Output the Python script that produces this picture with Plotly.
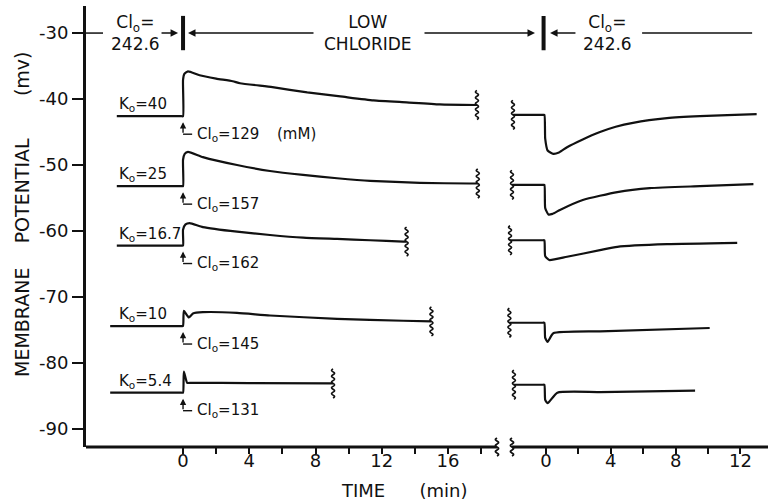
import math
import plotly.graph_objects as go

# ---------------- data ----------------
k_labels = ["40", "25", "16.7", "10", "5.4"]
cl_labels = ["129", "157", "162", "145", "131"]

# low-chloride records (time in min, potential in mV)
t_low_40 = [-4.0, -2.0, -0.1, 0.0, 0.0, 0.08, 0.3, 1.0, 2.0, 3.0, 3.44, 5.4, 7.5, 9.5, 11.5, 13.5, 15.5, 17.75]
v_low_40 = [-42.6, -42.6, -42.6, -42.6, -37.1, -36.2, -35.8, -36.4, -36.9, -37.3, -37.6, -38.2, -39.0, -39.6, -40.2, -40.5, -40.8, -40.9]
t_low_25 = [-4.0, -2.0, -0.1, 0.0, 0.0, 0.1, 0.3, 1.2, 3.26, 5.25, 7.25, 9.3, 11.3, 14.3, 17.3, 17.8]
v_low_25 = [-53.2, -53.2, -53.2, -53.2, -49.2, -48.3, -48.0, -48.8, -50.0, -50.9, -51.5, -52.0, -52.4, -52.7, -52.8, -52.8]
t_low_167 = [-4.0, -2.0, -0.1, 0.0, 0.0, 0.15, 0.4, 1.2, 3.26, 5.25, 7.25, 9.3, 11.3, 13.3, 13.5]
v_low_167 = [-62.2, -62.2, -62.2, -62.2, -59.8, -59.0, -58.8, -59.4, -60.1, -60.6, -61.0, -61.2, -61.4, -61.6, -61.6]
t_low_10 = [-4.4, -2.0, -0.1, 0.0, 0.05, 0.35, 0.6, 1.2, 3.26, 5.25, 9.3, 13.3, 15.0]
v_low_10 = [-74.4, -74.4, -74.4, -74.4, -72.1, -73.1, -72.5, -72.3, -72.4, -72.8, -73.3, -73.6, -73.7]
t_low_54 = [-4.4, -2.0, -0.1, 0.0, 0.05, 0.25, 0.5, 4.0, 9.06]
v_low_54 = [-84.5, -84.5, -84.5, -84.5, -81.3, -83.0, -83.0, -83.05, -83.1]

# recovery records after Cl restored (time in min, potential in mV)
t_rec_40 = [-2.04, -1.0, -0.2, -0.1, -0.05, 0.1, 0.45, 0.8, 1.3, 2.2, 3.33, 4.3, 5.37, 7.47, 9.5, 11.2, 13.0]
v_rec_40 = [-42.4, -42.4, -42.4, -42.4, -46.0, -47.8, -48.3, -48.1, -47.3, -46.2, -45.0, -44.2, -43.6, -42.9, -42.6, -42.45, -42.3]
t_rec_25 = [-2.1, -1.0, -0.2, -0.1, -0.05, 0.15, 0.4, 0.86, 2.27, 4.4, 6.4, 9.5, 12.8]
v_rec_25 = [-53.0, -53.0, -53.0, -53.0, -56.5, -57.5, -57.4, -56.8, -55.3, -54.1, -53.5, -53.2, -52.9]
t_rec_167 = [-2.22, -1.0, -0.2, -0.1, -0.05, 0.2, 1.3, 3.33, 4.4, 7.47, 11.8]
v_rec_167 = [-61.4, -61.4, -61.4, -61.4, -63.8, -64.4, -63.9, -62.9, -62.4, -62.0, -61.8]
t_rec_10 = [-2.26, -1.0, -0.2, -0.1, -0.05, 0.1, 0.45, 3.33, 10.1]
v_rec_10 = [-73.9, -73.9, -73.9, -73.9, -76.2, -76.8, -75.5, -75.2, -74.7]
t_rec_54 = [-1.98, -1.0, -0.2, -0.1, -0.05, 0.1, 0.7, 3.33, 9.2]
v_rec_54 = [-83.3, -83.3, -83.3, -83.3, -85.6, -86.1, -84.5, -84.4, -84.2]

y_ticks = [-30, -40, -50, -60, -70, -80, -90]
x_low_ticks = [0, 2, 4, 6, 8, 10, 12, 14, 16, 18]
x_rec_ticks = [0, 2, 4, 6, 8, 10, 12]

low = [(t_low_40, v_low_40), (t_low_25, v_low_25), (t_low_167, v_low_167),
       (t_low_10, v_low_10), (t_low_54, v_low_54)]
rec = [(t_rec_40, v_rec_40), (t_rec_25, v_rec_25), (t_rec_167, v_rec_167),
       (t_rec_10, v_rec_10), (t_rec_54, v_rec_54)]

# ---------------- geometry ----------------
W, H = 768, 503
ML, MR, MT, MB = 86, 0, 6, 56
PW, PH = W - ML - MR, H - MT - MB
X1R = [-5.86, 18.96]
X2R = [-2.45, 13.7]
D1 = [0.0, (497 - ML) / PW]
D2 = [(546 - 2.45 * 16.2 - ML) / PW, 1.0]
YR = [-92.73, -25.9]

def ppx(px):
    return (px - ML) / PW

INK = "#111111"
FONT = "DejaVu Sans"

fig = go.Figure()
for t, v in low:
    fig.add_trace(go.Scatter(x=t, y=v, mode="lines",
                             line=dict(color=INK, width=2.2, shape="spline", smoothing=0.5),
                             xaxis="x", yaxis="y", showlegend=False, hoverinfo="skip"))
for t, v in rec:
    fig.add_trace(go.Scatter(x=t, y=v, mode="lines",
                             line=dict(color=INK, width=2.2, shape="spline", smoothing=0.5),
                             xaxis="x2", yaxis="y", showlegend=False, hoverinfo="skip"))

shapes = []
annotations = []

def squig_path(x0, y0, hx, hy, cycles=5, n=60):
    pts = []
    for i in range(n + 1):
        s = i / n
        yy = y0 - hy + 2 * hy * s
        xx = x0 + hx * math.sin(2 * math.pi * cycles * s)
        pts.append((xx, yy))
    return "M " + " L ".join(f"{a:.4f},{b:.4f}" for a, b in pts)

# record-end squiggles
for t, v in low:
    shapes.append(dict(type="path", xref="x", yref="y",
                       path=squig_path(t[-1], v[-1], 0.09, 2.2),
                       line=dict(color=INK, width=1.6)))
for t, v in rec:
    shapes.append(dict(type="path", xref="x2", yref="y",
                       path=squig_path(t[0], v[0], 0.09, 2.2),
                       line=dict(color=INK, width=1.6)))

# x axis lines (broken)
shapes.append(dict(type="line", xref="paper", yref="paper", x0=0, x1=D1[1], y0=0, y1=0,
                   line=dict(color=INK, width=3)))
shapes.append(dict(type="line", xref="paper", yref="paper", x0=ppx(512), x1=1, y0=0, y1=0,
                   line=dict(color=INK, width=3)))
dy = 9 / PH
for xp in [D1[1], ppx(512)]:
    shapes.append(dict(type="path", xref="paper", yref="paper",
                       path=squig_path(xp, 0, 1.5 / PW, dy, 3), line=dict(color=INK, width=1.8)))

# solution-change bars
shapes.append(dict(type="line", xref="x", yref="y", x0=0, x1=0, y0=-27.4, y1=-32.6,
                   line=dict(color=INK, width=4)))
shapes.append(dict(type="line", xref="x2", yref="y", x0=-0.15, x1=-0.15, y0=-27.4, y1=-32.6,
                   line=dict(color=INK, width=4)))
# top lines
shapes.append(dict(type="line", xref="paper", yref="y", x0=0, x1=ppx(103), y0=-30, y1=-30,
                   line=dict(color=INK, width=1.5)))
shapes.append(dict(type="line", xref="x2", yref="y", x0=5.93, x1=12.72, y0=-30, y1=-30,
                   line=dict(color=INK, width=1.5)))

def arrow(x, ax, xref):
    annotations.append(dict(x=x, y=-30, xref=xref, yref="y", ax=ax, ay=-30,
                            axref=xref, ayref="y", text="", showarrow=True,
                            arrowhead=2, arrowsize=1, arrowwidth=1.5, arrowcolor=INK,
                            standoff=0, startstandoff=0))

arrow(-0.3, -1.39, "x")
arrow(0.3, 7.97, "x")
arrow(0.25, 1.91, "x2")
annotations.append(dict(x=ppx(535), y=-30, xref="paper", yref="y", ax=-112, ay=0,
                        text="", showarrow=True, arrowhead=2, arrowsize=1, arrowwidth=1.5,
                        arrowcolor=INK, standoff=0))

tf = dict(family=FONT, size=17, color=INK)
annotations.append(dict(x=-2.9, y=-30, xref="x", yref="y", text="Cl<sub>o</sub>=<br>242.6",
                        showarrow=False, font=tf, xanchor="center", yanchor="middle"))
annotations.append(dict(x=11.17, y=-30, xref="x", yref="y", text="LOW<br>CHLORIDE",
                        showarrow=False, font=tf, xanchor="center", yanchor="middle"))
annotations.append(dict(x=3.77, y=-30, xref="x2", yref="y", text="Cl<sub>o</sub>=<br>242.6",
                        showarrow=False, font=tf, xanchor="center", yanchor="middle"))

# K and Cl labels
lf = dict(family=FONT, size=15, color=INK)
for i, (t, v) in enumerate(low):
    base = v[0]
    annotations.append(dict(x=-4.0, y=base, xref="x", yref="y",
                            text=f"K<sub>o</sub>={k_labels[i]}", showarrow=False, font=lf,
                            xanchor="left", yanchor="bottom", yshift=0))
    tip = base - 6 / 6.6
    corner = base - 18 / 6.6
    annotations.append(dict(x=0, y=tip, xref="x", yref="y", ax=0, ay=corner,
                            axref="x", ayref="y", text="", showarrow=True, arrowhead=2,
                            arrowsize=0.9, arrowwidth=1.4, arrowcolor=INK, standoff=0))
    shapes.append(dict(type="line", xref="x", yref="y", x0=0, x1=0.55, y0=corner, y1=corner,
                       line=dict(color=INK, width=1.4)))
    annotations.append(dict(x=0.7, y=corner, xref="x", yref="y",
                            text=f"Cl<sub>o</sub>={cl_labels[i]}", showarrow=False, font=lf,
                            xanchor="left", yanchor="middle"))
    if i == 0:
        annotations.append(dict(x=5.55, y=corner, xref="x", yref="y", text="(mM)",
                                showarrow=False, font=lf, xanchor="left", yanchor="middle"))

# axis titles
annotations.append(dict(x=ppx(22), y=(H - MB - 214) / PH, xref="paper", yref="paper",
                        text="MEMBRANE&nbsp;&nbsp;&nbsp;&nbsp;POTENTIAL&nbsp;&nbsp;&nbsp;&nbsp;&nbsp;&nbsp;&nbsp;(mv)",
                        textangle=-90, showarrow=False, font=dict(family=FONT, size=19, color=INK),
                        xanchor="center", yanchor="middle"))
annotations.append(dict(x=ppx(404), y=(H - MB - 490) / PH, xref="paper", yref="paper",
                        text="TIME&nbsp;&nbsp;&nbsp;&nbsp;&nbsp;&nbsp;(min)",
                        showarrow=False, font=dict(family=FONT, size=18, color=INK),
                        xanchor="center", yanchor="middle"))

def xt(ticks):
    return [str(v) if v % 4 == 0 else "" for v in ticks]

fig.update_layout(
    width=W, height=H, margin=dict(l=ML, r=MR, t=MT, b=MB),
    paper_bgcolor="white", plot_bgcolor="white",
    font=dict(family=FONT, size=17, color=INK),
    xaxis=dict(domain=D1, range=X1R, anchor="y", showline=False, showgrid=False, zeroline=False,
               tickmode="array", tickvals=x_low_ticks, ticktext=xt(x_low_ticks),
               ticks="outside", ticklen=6, tickwidth=2, tickcolor=INK, ticklabelstandoff=-9,
               tickfont=dict(family=FONT, size=18, color=INK)),
    xaxis2=dict(domain=D2, range=X2R, anchor="y", showline=False, showgrid=False, zeroline=False,
                tickmode="array", tickvals=x_rec_ticks, ticktext=xt(x_rec_ticks),
                ticks="outside", ticklen=6, tickwidth=2, tickcolor=INK, ticklabelstandoff=-9,
                tickfont=dict(family=FONT, size=18, color=INK)),
    yaxis=dict(range=YR, anchor="x", showline=True, linewidth=3, linecolor=INK,
               showgrid=False, zeroline=False, tickmode="array", tickvals=y_ticks,
               ticktext=[f"-{abs(v)}" for v in y_ticks], ticks="outside", ticklen=11,
               tickwidth=2, tickcolor=INK, tickfont=dict(family=FONT, size=18, color=INK)),
    shapes=shapes, annotations=annotations,
)

fig.write_html("out.html")
